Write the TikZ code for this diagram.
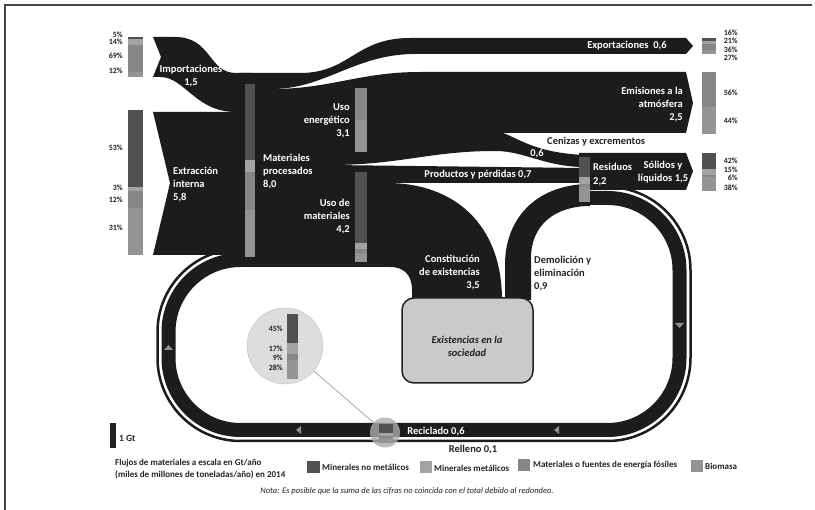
\documentclass[tikz,border=0pt]{standalone}
\usepackage{fontspec}
\setmainfont{Carlito}
\definecolor{flowblack}{HTML}{1C1C1C}
\definecolor{nonmet}{HTML}{515151}
\definecolor{metal}{HTML}{A3A3A3}
\definecolor{fossil}{HTML}{868686}
\definecolor{biomass}{HTML}{949494}
\definecolor{textdark}{HTML}{222222}
\definecolor{boxgray}{HTML}{CACACA}
\definecolor{circgray}{HTML}{DDDDDD}
\definecolor{circedge}{HTML}{C2C2C2}
\definecolor{arrowgray}{HTML}{8E8E8E}
\definecolor{framegray}{HTML}{444444}
\definecolor{linegray}{HTML}{A8A8A8}
\definecolor{smallcirc}{HTML}{ABABAB}
\begin{document}
\begin{tikzpicture}[x=1pt,y=-1pt,
  wlbl/.style={font=\fontsize{10.5}{13}\selectfont\bfseries, text=white, inner sep=0pt},
  dlbl/.style={wlbl, text=textdark},
  pct/.style={font=\fontsize{8}{9}\selectfont\bfseries, text=textdark, inner sep=0pt, anchor=east},
  leg/.style={font=\fontsize{9}{12}\selectfont\bfseries, text=textdark, inner sep=0pt, anchor=west},
  tri/.style={fill=arrowgray}]
\useasboundingbox (0,0) rectangle (815,510);
% frame
\draw[framegray, line width=1.5pt] (5,510) -- (5,5) -- (812,5);
% loop (recycling) and backfilling line
\draw[flowblack, line width=14pt, rounded corners=72pt] (586,198) -- (679.5,198) -- (679.5,430) -- (168.5,430) -- (168.5,260) -- (252,260);
\draw[flowblack, line width=2.5pt, rounded corners=83pt] (588,187) -- (690.5,187) -- (690.5,441) -- (157.5,441) -- (157.5,249) -- (250,249);
% imports
\fill[flowblack] (153,37) -- (161,57) -- (153,77) -- (160,77) .. controls (185,77) and (195,112) .. (236,112) -- (252,112) -- (252,73) -- (236,73) .. controls (208,73) and (212,37) .. (175,37) -- cycle;
% extraction
\fill[flowblack] (153,112) -- (170,183) -- (153,255) -- (252,255) -- (252,112) -- cycle;
% merge
\fill[flowblack] (238,73) rectangle (272,267);
% exports
\fill[flowblack] (240,73) -- (300,73) .. controls (350,73) and (355,38) .. (410,38) -- (686,38) -- (693,46) -- (686,54) -- (415,54) .. controls (355,54) and (325,89) .. (272,89) -- (240,89) -- cycle;
% energy use -> emissions + ashes
\fill[flowblack] (240,89) -- (272,89) .. controls (330,89) and (360,72) .. (420,72) -- (686,72) -- (693,103) -- (686,133) -- (503,133) .. controls (518,138) and (535,153) .. (585,155) -- (585,167) .. controls (545,167) and (525,151) .. (495,151) .. controls (430,151) and (400,165) .. (330,165) -- (240,165) -- cycle;
% material use -> products + stock
\fill[flowblack] (240,165) -- (330,165) -- (585,168) -- (585,183) -- (387,183) .. controls (455,183) and (502,225) .. (502,300) -- (412,300) -- (412,290) .. controls (412,276) and (405,267) .. (390,267) -- (240,267) -- cycle;
% demolition
\fill[flowblack] (505,300) -- (505,265) .. controls (505,215) and (540,184) .. (590,184) -- (590,206) .. controls (555,206) and (531,225) .. (531,258) -- (531,300) -- cycle;
% solids
\fill[flowblack] (579,153) -- (686,153) -- (693,171) -- (686,190) -- (579,190) -- cycle;
% bars: imports
\fill[nonmet] (128,37) rectangle (143,39);
\fill[metal] (128,39) rectangle (143,44.6);
\fill[fossil] (128,44.6) rectangle (143,72.2);
\fill[biomass] (128,72.2) rectangle (143,77);
% extraction
\fill[nonmet] (128,110) rectangle (143,187);
\fill[metal] (128,187) rectangle (143,191.5);
\fill[fossil] (128,191.5) rectangle (143,208.5);
\fill[biomass] (128,208.5) rectangle (143,255);
% processed
\fill[nonmet] (245,84) rectangle (255,160);
\fill[metal] (245,160) rectangle (255,172);
\fill[fossil] (245,172) rectangle (255,210);
\fill[biomass] (245,210) rectangle (255,257);
% energy use
\fill[fossil] (355,88) rectangle (367,120);
\fill[biomass] (355,120) rectangle (367,152);
% material use
\fill[nonmet] (355,172) rectangle (367,243);
\fill[metal] (355,243) rectangle (367,249);
\fill[fossil] (355,249) rectangle (367,253);
\fill[biomass] (355,253) rectangle (367,262);
% waste
\fill[nonmet] (579,157) rectangle (590,177);
\fill[metal] (579,177) rectangle (590,184);
\fill[fossil] (579,184) rectangle (590,187);
\fill[biomass] (579,187) rectangle (590,202);
% exports bar
\fill[nonmet] (702,38) rectangle (716,40.6);
\fill[metal] (702,40.6) rectangle (716,44);
\fill[fossil] (702,44) rectangle (716,49.8);
\fill[biomass] (702,49.8) rectangle (716,54);
% emissions bar
\fill[fossil] (702,72) rectangle (716,106.7);
\fill[biomass] (702,106.7) rectangle (716,134);
% solids bar
\fill[nonmet] (702,153) rectangle (716,169);
\fill[metal] (702,169) rectangle (716,174.7);
\fill[fossil] (702,174.7) rectangle (716,177);
\fill[biomass] (702,177) rectangle (716,191);
% loop arrows
\fill[tri] (164,350) -- (173,350) -- (168.5,345) -- cycle;
\fill[tri] (675,323) -- (684,323) -- (679.5,328) -- cycle;
\fill[tri] (296,430) -- (301,426) -- (301,434) -- cycle;
\fill[tri] (554,430) -- (559,426) -- (559,434) -- cycle;
% stock box
\node[draw=textdark, line width=1.5pt, fill=boxgray, rounded corners=12pt, minimum width=131pt, minimum height=85pt, inner sep=0pt] (box) at (467.5,340.5) {};
\node[dlbl, font=\fontsize{10.5}{13}\selectfont\bfseries\itshape, align=center] (texis) at (467,346.5) {Existencias en la\\sociedad};
% circles
\node[circle, draw=circedge, fill=circgray, minimum size=76pt, inner sep=0pt] (bigc) at (285,346) {};
\node[circle, fill=smallcirc, opacity=0.8, minimum size=30pt, inner sep=0pt] (smallc) at (385,432.5) {};
\draw[linegray, line width=0.8pt] (bigc) -- (smallc);
\fill[nonmet] (287,314) rectangle (298,343.3);
\fill[metal] (287,343.3) rectangle (298,354.3);
\fill[fossil] (287,354.3) rectangle (298,360.1);
\fill[biomass] (287,360.1) rectangle (298,379);
\fill[nonmet] (379,424) rectangle (393,433);
\fill[metal] (379,433) rectangle (393,436.5);
\fill[fossil] (379,436.5) rectangle (393,438.5);
\fill[biomass] (379,438.5) rectangle (393,443);
\node[pct] (c1) at (283,329) {45\%};
\node[pct] (c2) at (283,349) {17\%};
\node[pct] (c3) at (283,358) {9\%};
\node[pct] (c4) at (283,368) {28\%};
% percentages left
\node[pct] (p1) at (123,35) {5\%};
\node[pct] (p2) at (123,42) {14\%};
\node[pct] (p3) at (123,56) {69\%};
\node[pct] (p4) at (123,71) {12\%};
\node[pct] (p5) at (123,148) {53\%};
\node[pct] (p6) at (123,188) {3\%};
\node[pct] (p7) at (123,200) {12\%};
\node[pct] (p8) at (123,228) {31\%};
% percentages right
\node[pct] (q1) at (738,33) {16\%};
\node[pct] (q2) at (738,41) {21\%};
\node[pct] (q3) at (738,49.5) {36\%};
\node[pct] (q4) at (738,58) {27\%};
\node[pct] (q5) at (738,93) {56\%};
\node[pct] (q6) at (738,121) {44\%};
\node[pct] (q7) at (738,161) {42\%};
\node[pct] (q8) at (738,170) {15\%};
\node[pct] (q9) at (738,177.5) {6\%};
\node[pct] (q10) at (738,187.5) {38\%};
% flow labels
\node[wlbl, align=center] (timp) at (191,76.5) {Importaciones\\1,5};
\node[wlbl, align=left, anchor=west] (text) at (173,184.5) {Extracción\\interna\\5,8};
\node[wlbl, align=left, anchor=west] (tproc) at (263,171.5) {Materiales\\procesados\\8,0};
\node[wlbl, align=right, anchor=east] (tener) at (350,120.5) {Uso\\energético\\3,1};
\node[wlbl, align=right, anchor=east] (tmat) at (350,216.5) {Uso de\\materiales\\4,2};
\node[wlbl] (texp) at (627,46) {Exportaciones\ \ 0,6};
\node[wlbl, align=right, anchor=east] (temis) at (683,105) {Emisiones a la\\atmósfera\\2,5};
\node[dlbl, anchor=west] (tcen) at (547,142) {Cenizas y excrementos};
\node[wlbl] (tcen2) at (537,154) {0,6};
\node[wlbl] (tprod) at (478,175) {Productos y pérdidas 0,7};
\node[wlbl, align=left, anchor=west, font=\fontsize{10.5}{14}\selectfont\bfseries] (tres) at (593,175) {Residuos\\2,2};
\node[wlbl, align=center] (tsol) at (663,172) {Sólidos y\\líquidos 1,5};
\node[wlbl, align=right, anchor=east] (tcons) at (480,272.5) {Constitución\\de existencias\\3,5};
\node[dlbl, align=left, anchor=west] (tdem) at (534,273.5) {Demolición y\\eliminación\\0,9};
\node[wlbl] (trec) at (436,432) {Reciclado 0,6};
\node[dlbl] (trel) at (473,450) {Relleno 0,1};
% legend
\fill[textdark] (110,423) rectangle (116,448);
\node[leg, font=\fontsize{9.5}{11}\selectfont\bfseries] (gt) at (119,438) {1 Gt};
\node[leg, align=left] (legt) at (115,469) {Flujos de materiales a escala en Gt/año\\(miles de millones de toneladas/año) en 2014};
\fill[nonmet] (307,461) rectangle (320,473);
\node[leg] (l1) at (322,467) {Minerales no metálicos};
\fill[metal] (420,461) rectangle (432,473);
\node[leg] (l2) at (434,468) {Minerales metálicos};
\fill[fossil] (518,459) rectangle (530,471);
\node[leg] (l3) at (533,465) {Materiales o fuentes de energía fósiles};
\fill[biomass] (691,460) rectangle (703,472);
\node[leg] (l4) at (705,466) {Biomasa};
\node[font=\fontsize{8.5}{10}\selectfont\itshape, text=textdark, inner sep=0pt] (nota) at (407,491) {Nota: Es posible que la suma de las cifras no coincida con el total debido al redondeo.};
\end{tikzpicture}
\end{document}
